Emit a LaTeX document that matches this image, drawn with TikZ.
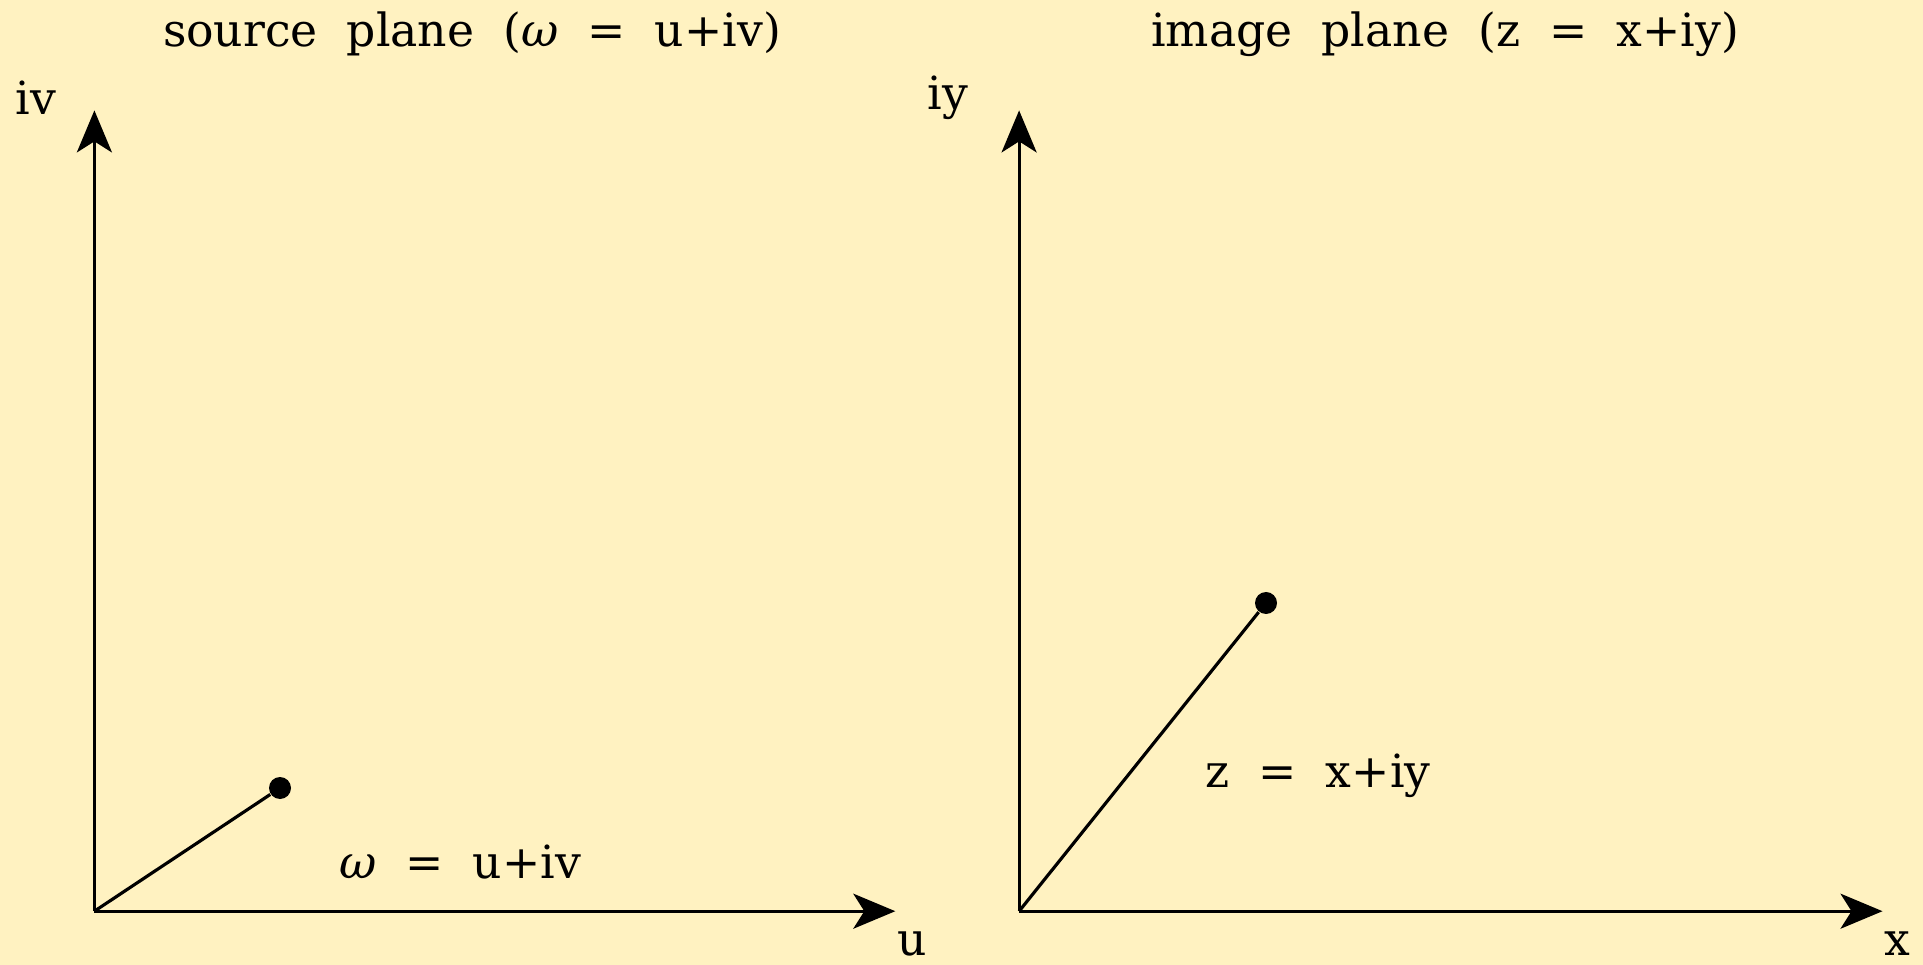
\documentclass[tikz,border=0pt]{standalone}
\usepackage{fontspec}
\setmainfont{DejaVu Serif}[WordSpace=2.0]
\usepackage{xcolor}
\usepackage{tikz}
\usetikzlibrary{arrows.meta, positioning}
\definecolor{paper}{HTML}{FFF2C1}

\begin{document}
\begin{tikzpicture}[
    axis/.style={line width=0.9pt, -{Stealth[length=0.42cm, width=0.35cm, inset=0.11cm]}},
    vec/.style={line width=0.9pt},
    pt/.style={circle, fill=black, inner sep=0pt, minimum size=0.22cm},
    lbl/.style={font=\fontsize{13}{15}\selectfont, inner sep=0pt},
]
    % Background
    \fill[paper] (0,0) rectangle (19.23,-9.65);
    \useasboundingbox (0,0) rectangle (19.23,-9.65);

    % Source plane
    \coordinate (o1) at (0.944,-9.112);
    \coordinate (v1) at (0.944,-1.104);
    \coordinate (u1) at (8.953,-9.112);
    \node[lbl] (title1) at (4.72,-0.34) {source plane (\textit{ω} = u+iv)};
    \node[lbl] (ivlbl) at (0.36,-0.98) {iv};
    \node[lbl] (ulbl) at (9.12,-9.44) {u};
    \node[pt] (w) at (2.80,-7.88) {};
    \node[lbl] (wlbl) at (4.60,-8.62) {\textit{ω} = u+iv};

    \draw[axis] (o1) -- (v1);
    \draw[axis] (o1) -- (u1);
    \draw[vec] (o1) -- (w);

    % Image plane
    \coordinate (o2) at (10.191,-9.112);
    \coordinate (y2) at (10.191,-1.104);
    \coordinate (x2) at (18.825,-9.112);
    \node[lbl] (title2) at (14.45,-0.34) {image plane (z = x+iy)};
    \node[lbl] (iylbl) at (9.48,-0.98) {iy};
    \node[lbl] (xlbl) at (18.97,-9.44) {x};
    \node[pt] (z) at (12.66,-6.03) {};
    \node[lbl] (zlbl) at (13.18,-7.76) {z = x+iy};

    \draw[axis] (o2) -- (y2);
    \draw[axis] (o2) -- (x2);
    \draw[vec] (o2) -- (z);
\end{tikzpicture}
\end{document}
